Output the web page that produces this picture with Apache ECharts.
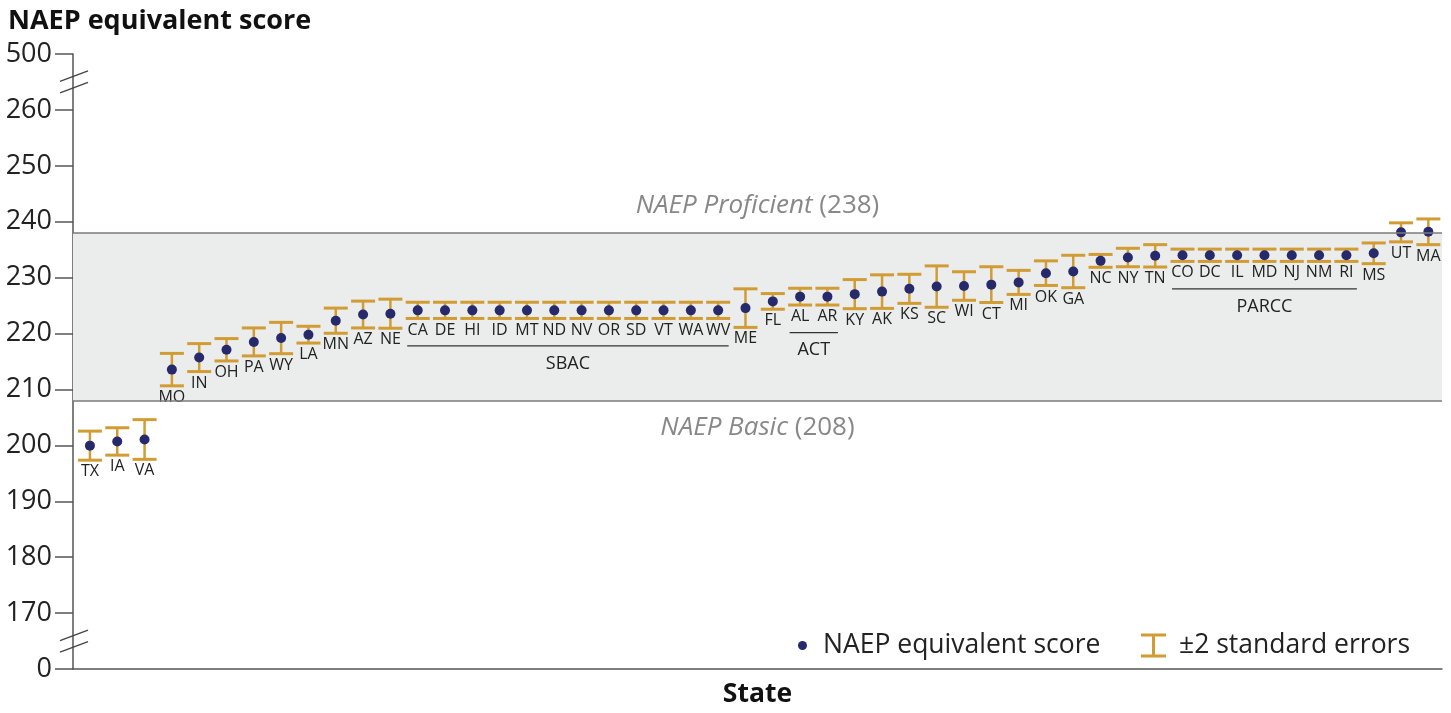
<!DOCTYPE html>
<html>
<head>
<meta charset="utf-8">
<script src="https://cdn.jsdelivr.net/npm/echarts@6/dist/echarts.min.js"></script>
<style>
html,body{margin:0;padding:0;background:#fff;}
#main{width:1451px;height:713px;}
</style>
</head>
<body>
<div id="main"></div>
<script>
// states in display order
var states = ['TX','IA','VA','MO','IN','OH','PA','WY','LA','MN','AZ','NE',
	'CA','DE','HI','ID','MT','ND','NV','OR','SD','VT','WA','WV',
	'ME','FL','AL','AR','KY','AK','KS','SC','WI','CT','MI','OK','GA','NC','NY','TN',
	'CO','DC','IL','MD','NJ','NM','RI','MS','UT','MA'];
var scores = [199.95,200.7,201.05,213.55,215.7,217.1,218.5,219.2,219.8,222.3,223.4,223.55,
	224.15,224.15,224.15,224.15,224.15,224.15,224.15,224.15,224.15,224.15,224.15,224.15,
	224.55,225.75,226.6,226.6,227.05,227.5,228.0,228.4,228.5,228.75,229.15,230.8,231.1,233.0,233.6,233.9,
	234.0,234.0,234.0,234.0,234.0,234.0,234.0,234.35,238.1,238.2];
// 2 standard errors
var errors = [2.6,2.45,3.55,2.9,2.5,2.0,2.5,2.8,1.5,2.25,2.4,2.6,
	1.45,1.45,1.45,1.45,1.45,1.45,1.45,1.45,1.45,1.45,1.45,1.45,
	3.45,1.4,1.5,1.5,2.6,3.0,2.6,3.7,2.55,3.2,2.15,2.2,2.9,1.15,1.65,2.0,
	1.1,1.1,1.1,1.1,1.1,1.1,1.1,1.85,1.7,2.3];
var groupNames = ['SBAC','ACT','PARCC'];
var groupFirst = ['CA','AL','CO'];
var groupLast = ['WV','AR','RI'];
var levelValues = [238,208];
var levelNames = ['NAEP Proficient','NAEP Basic'];
var yTicksShown = [0,170,180,190,200,210,220,230,240,250,260,500];
var breakAt = [165,265];

var font = '"Open Sans", "Noto Sans", sans-serif';
var gold = '#d19c34';
var navy = '#262a6b';
var xMin = -0.62, xMax = 49.5;

var dots = [];
var bars = [];
for (var i = 0; i < states.length; i++) {
	dots.push([i, scores[i]]);
	bars.push([i, scores[i]-errors[i], scores[i]+errors[i]]);
}
var groups = [];
for (var g = 0; g < groupNames.length; g++) {
	var a = states.indexOf(groupFirst[g]), b = states.indexOf(groupLast[g]);
	var lo = 999;
	for (var k = a; k <= b; k++) lo = Math.min(lo, scores[k]-errors[k]);
	groups.push([a, lo, b]);
}

var myChart = echarts.init(document.getElementById('main'));

function renderBar(params, api) {
	var idx = api.value(0);
	var p1 = api.coord([idx, api.value(1)]);
	var p2 = api.coord([idx, api.value(2)]);
	var cx = p1[0], hw = 12;
	var ls = {stroke: gold, lineWidth: 3};
	return {
		type:'group',
		children:[
			{type:'line', shape:{x1:cx,y1:p1[1],x2:cx,y2:p2[1]}, style:{stroke:gold,lineWidth:2.5}},
			{type:'line', shape:{x1:cx-hw,y1:p1[1],x2:cx+hw,y2:p1[1]}, style:ls},
			{type:'line', shape:{x1:cx-hw,y1:p2[1],x2:cx+hw,y2:p2[1]}, style:ls},
			{type:'text', style:{text:states[idx], x:cx, y:p1[1]+11.5, align:'center', verticalAlign:'middle',
				fontSize:16, fontFamily:font, fill:'#222'}}
		]
	};
}

function renderGroup(params, api) {
	var p1 = api.coord([api.value(0), api.value(1)]);
	var p2 = api.coord([api.value(2), api.value(1)]);
	var ly = p1[1] + 27.5;
	return {
		type:'group',
		children:[
			{type:'line', shape:{x1:p1[0]-10.5,y1:ly,x2:p2[0]+10.5,y2:ly}, style:{stroke:'#333',lineWidth:1.2}},
			{type:'text', style:{text:groupNames[params.dataIndex], x:(p1[0]+p2[0])/2, y:ly+17.5,
				align:'center', verticalAlign:'middle', fontSize:18, fontFamily:font, fill:'#222'}}
		]
	};
}

function renderBreak(params, api) {
	var c = api.coord([xMin, api.value(0)]);
	var cx = c[0], cy = c[1];
	var st = {stroke:'#444', lineWidth:1.4};
	return {
		type:'group',
		children:[
			{type:'line', shape:{x1:cx-13,y1:cy-0.5,x2:cx+15,y2:cy-11}, style:st},
			{type:'line', shape:{x1:cx-13,y1:cy+11,x2:cx+15,y2:cy+0.5}, style:st}
		]
	};
}

var option = {
	animation:false,
	title:{
		text:'NAEP equivalent score',
		left:8, top:8, padding:0,
		textStyle:{fontSize:27, fontWeight:'bold', color:'#111', fontFamily:font}
	},
	legend:[{
		data:[{name:'NAEP equivalent score', icon:'circle'}],
		left:798, top:632, padding:0,
		itemWidth:9, itemHeight:9,
		textStyle:{fontSize:26.5, color:'#222', fontFamily:font, padding:[0,0,0,11]}
	},{
		data:[{name:'±2 standard errors', icon:'path://M0,0H25V3H14V21H25V24H0V21H11V3H0Z'}],
		left:1141, top:632, padding:0,
		itemWidth:25, itemHeight:24,
		textStyle:{fontSize:26.5, color:'#222', fontFamily:font, padding:[0,0,0,8]}
	}],
	grid:{left:73, right:9, top:54, bottom:39},
	xAxis:{
		type:'value', min:xMin, max:xMax,
		name:'State', nameLocation:'middle', nameGap:12,
		nameTextStyle:{fontSize:26.5, fontWeight:'bold', color:'#111', fontFamily:font, verticalAlign:'top'},
		axisLine:{show:true, onZero:false, lineStyle:{color:'#555', width:1.5}},
		axisTick:{show:false}, axisLabel:{show:false}, splitLine:{show:false}
	},
	yAxis:{
		type:'value', min:160, max:270, interval:10,
		axisLine:{show:true, onZero:false, lineStyle:{color:'#555', width:1.5}},
		axisTick:{show:true, length:18, lineStyle:{color:'#555', width:1.5}},
		axisLabel:{
			fontSize:27, color:'#222', fontFamily:font, margin:21,
			formatter:function(v){
				if (v === 160) return String(yTicksShown[0]);
				if (v === 270) return String(yTicksShown[yTicksShown.length-1]);
				return String(v);
			}
		},
		splitLine:{show:false}
	},
	series:[{
		name:'±2 standard errors',
		type:'custom',
		renderItem:renderBar,
		data:bars,
		encode:{x:0, y:[1,2]},
		clip:false,
		z:2,
		itemStyle:{color:gold},
		markArea:{
			silent:true,
			itemStyle:{color:'#ebecec'},
			data:[[{yAxis:levelValues[1]},{yAxis:levelValues[0]}]]
		},
		markLine:{
			silent:true,
			symbol:['none','none'],
			lineStyle:{color:'#7b7b7b', width:1.5, type:'solid'},
			label:{
				color:'#888', fontSize:26, fontFamily:font, distance:14,
				formatter:function(p){ return '{i|' + p.name + '} (' + p.value + ')'; },
				rich:{i:{fontStyle:'italic', color:'#888', fontSize:26, fontFamily:font}}
			},
			data:[
				{yAxis:levelValues[0], name:levelNames[0], label:{position:'insideMiddleTop'}},
				{yAxis:levelValues[1], name:levelNames[1], label:{position:'insideMiddleBottom'}}
			]
		}
	},{
		name:'NAEP equivalent score',
		type:'scatter',
		data:dots,
		symbol:'circle',
		symbolSize:10,
		itemStyle:{color:navy, opacity:1},
		z:4
	},{
		name:'groups',
		type:'custom',
		renderItem:renderGroup,
		data:groups,
		encode:{x:[0,2], y:1},
		clip:false,
		z:3
	},{
		name:'breaks',
		type:'custom',
		renderItem:renderBreak,
		data:breakAt.map(function(v){ return [v]; }),
		encode:{y:0},
		clip:false,
		silent:true,
		z:3
	}]
};
myChart.setOption(option);
</script>
</body>
</html>
